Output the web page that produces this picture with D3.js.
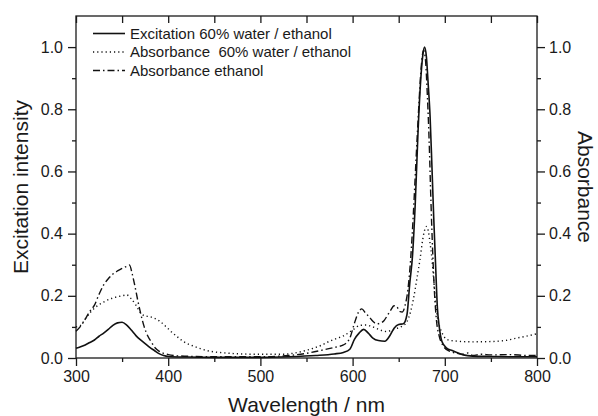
<!DOCTYPE html>
<html>
<head>
<meta charset="utf-8">
<script src="https://cdn.jsdelivr.net/npm/d3@7"></script>
<style>
  body { margin: 0; background: #fff; }
  svg { display: block; font-family: "Liberation Sans", Arial, sans-serif; }
  .axis path, .axis line { stroke: #1a1a1a; stroke-width: 1.3; }
  .axis text { fill: #1a1a1a; font-size: 16px; font-family: "Liberation Sans", Arial, sans-serif; }
</style>
</head>
<body>
<div id="chart"></div>
<script>
var svgWidth = 598;
var svgHeight = 416;

var margin = { top: 16, right: 61, bottom: 58, left: 76 };

var width = svgWidth - margin.left - margin.right;
var height = svgHeight - margin.top - margin.bottom;

// Excitation 60% water / ethanol (solid)
var excWave = [300, 305, 310, 315, 320, 325, 330, 335, 340, 345, 350, 355, 360, 365, 370, 375, 380, 385, 390, 395,
  400, 420, 450, 500, 530, 560, 580, 590, 597, 602, 607, 612, 617, 622, 628, 635, 640, 645, 650, 655,
  659, 662, 665, 668, 671, 674, 676, 678, 680, 682, 684, 686, 688, 690, 692, 694, 697, 702, 708, 713,
  720, 730, 750, 780, 800];
var excValue = [0.031, 0.036, 0.042, 0.05, 0.058, 0.07, 0.08, 0.092, 0.105, 0.113, 0.115, 0.106, 0.09, 0.072, 0.058, 0.046, 0.034, 0.024, 0.014, 0.008,
  0.005, 0.003, 0.002, 0.002, 0.004, 0.008, 0.013, 0.018, 0.028, 0.06, 0.08, 0.092, 0.08, 0.064, 0.056, 0.054, 0.07, 0.096, 0.108, 0.11,
  0.14, 0.24, 0.33, 0.5, 0.73, 0.9, 0.97, 1.0, 0.97, 0.88, 0.78, 0.62, 0.45, 0.3, 0.16, 0.1, 0.052, 0.032, 0.024, 0.018,
  0.01, 0.006, 0.005, 0.004, 0.004];

// Absorbance 60% water / ethanol (dotted)
var absWaterWave = [300, 305, 310, 315, 320, 330, 340, 350, 355, 360, 365, 370, 375, 380, 385, 390, 395, 400, 405, 410,
  415, 420, 425, 435, 445, 455, 467, 480, 496, 510, 525, 535, 545, 557, 567, 575, 583, 590, 600, 608,
  615, 620, 626, 632, 637, 643, 648, 654, 659, 663, 666, 670, 673, 676, 678, 680, 682, 684, 686, 688,
  690, 692, 695, 698, 702, 710, 730, 750, 765, 778, 790, 800];
var absWaterValue = [0.1, 0.105, 0.125, 0.145, 0.16, 0.18, 0.193, 0.2, 0.203, 0.19, 0.17, 0.145, 0.135, 0.133, 0.128, 0.12, 0.108, 0.094, 0.08, 0.068,
  0.056, 0.047, 0.041, 0.03, 0.022, 0.018, 0.015, 0.013, 0.012, 0.012, 0.012, 0.015, 0.021, 0.031, 0.042, 0.054, 0.063, 0.071, 0.09, 0.105,
  0.106, 0.102, 0.095, 0.088, 0.085, 0.09, 0.095, 0.103, 0.117, 0.15, 0.19, 0.26, 0.315, 0.38, 0.41, 0.423, 0.41, 0.37, 0.32, 0.25,
  0.18, 0.13, 0.096, 0.075, 0.06, 0.055, 0.052, 0.053, 0.056, 0.064, 0.071, 0.078];

// Absorbance ethanol (dash-dot)
var absEthWave = [300, 306, 310, 315, 320, 325, 330, 335, 340, 345, 350, 355, 358, 361, 364, 367, 370, 374, 378, 382,
  386, 390, 395, 400, 410, 430, 460, 500, 530, 550, 568, 583, 590, 597, 602, 606, 610, 614, 618, 622,
  626, 630, 634, 638, 641, 645, 648, 651, 654, 657, 660, 663, 666, 669, 672, 674, 676, 677, 679, 681,
  683, 685, 687, 689, 691, 694, 698, 705, 712, 720, 725, 730, 740, 750, 770, 790, 800];
var absEthValue = [0.086, 0.106, 0.125, 0.15, 0.17, 0.205, 0.235, 0.255, 0.27, 0.28, 0.288, 0.295, 0.299, 0.27, 0.23, 0.185, 0.145, 0.1, 0.07, 0.05,
  0.032, 0.022, 0.015, 0.011, 0.007, 0.005, 0.004, 0.004, 0.008, 0.015, 0.026, 0.036, 0.042, 0.064, 0.112, 0.145, 0.158, 0.145, 0.132, 0.118,
  0.11, 0.112, 0.12, 0.138, 0.152, 0.168, 0.165, 0.15, 0.148, 0.17, 0.22, 0.32, 0.47, 0.65, 0.82, 0.92, 0.98, 0.99, 0.96, 0.85,
  0.7, 0.5, 0.33, 0.2, 0.12, 0.07, 0.04, 0.022, 0.016, 0.012, 0.016, 0.008, 0.012, 0.01, 0.011, 0.008, 0.008];

// tick values
var xMajor = [300, 400, 500, 600, 700, 800];
var xMinor = [350, 450, 550, 650, 750];
var xTop = [300, 350, 400, 450, 500, 550, 600, 650, 700, 750, 800];
var yMajor = [0, 0.2, 0.4, 0.6, 0.8, 1.0];
var yMinor = [0.1, 0.3, 0.5, 0.7, 0.9];

var seriesNames = ["Excitation 60% water / ethanol", "Absorbance  60% water / ethanol", "Absorbance ethanol"];

var svg = d3.select("#chart")
  .append("svg")
  .attr("width", svgWidth)
  .attr("height", svgHeight);

var chartGroup = svg.append("g")
  .attr("transform", `translate(${margin.left}, ${margin.top})`);

var xScale = d3.scaleLinear().domain([300, 800]).range([0, width]);
var yScale = d3.scaleLinear().domain([0, 1.1]).range([height, 0]);

// frame
chartGroup.append("rect")
  .attr("width", width)
  .attr("height", height)
  .attr("fill", "none")
  .attr("stroke", "#1a1a1a")
  .attr("stroke-width", 1.3);

// bottom axis
chartGroup.append("g")
  .attr("class", "axis")
  .attr("transform", `translate(0, ${height})`)
  .call(d3.axisBottom(xScale).tickValues(xMajor).tickSize(8).tickPadding(5).tickFormat(d3.format("d")));
chartGroup.append("g")
  .attr("class", "axis")
  .attr("transform", `translate(0, ${height})`)
  .call(d3.axisBottom(xScale).tickValues(xMinor).tickSize(4).tickFormat(""));

// top axis, ticks pointing in
chartGroup.append("g")
  .attr("class", "axis")
  .call(d3.axisTop(xScale).tickValues(xTop).tickSize(-7).tickFormat(""));

// left axis
chartGroup.append("g")
  .attr("class", "axis")
  .call(d3.axisLeft(yScale).tickValues(yMajor).tickSize(8).tickPadding(5).tickFormat(d3.format(".1f")));
chartGroup.append("g")
  .attr("class", "axis")
  .call(d3.axisLeft(yScale).tickValues(yMinor).tickSize(4).tickFormat(""));

// right axis
chartGroup.append("g")
  .attr("class", "axis")
  .attr("transform", `translate(${width}, 0)`)
  .call(d3.axisRight(yScale).tickValues(yMajor).tickSize(8).tickPadding(4).tickFormat(d3.format(".1f")));
chartGroup.append("g")
  .attr("class", "axis")
  .attr("transform", `translate(${width}, 0)`)
  .call(d3.axisRight(yScale).tickValues(yMinor).tickSize(4).tickFormat(""));

chartGroup.selectAll(".axis .domain").remove();

// curves
var line = d3.line()
  .x(d => xScale(d[0]))
  .y(d => yScale(d[1]))
  .curve(d3.curveMonotoneX);

var series = [
  { name: seriesNames[0], data: d3.zip(excWave, excValue), dash: null, width: 1.6 },
  { name: seriesNames[1], data: d3.zip(absWaterWave, absWaterValue), dash: "1.2,3", width: 1.4 },
  { name: seriesNames[2], data: d3.zip(absEthWave, absEthValue), dash: "7,3,1.5,3", width: 1.4 }
];

chartGroup.selectAll(".curve")
  .data(series)
  .enter()
  .append("path")
  .attr("class", "curve")
  .attr("d", d => line(d.data))
  .attr("fill", "none")
  .attr("stroke", "#111")
  .attr("stroke-width", d => d.width)
  .attr("stroke-dasharray", d => d.dash);

// legend
var legend = chartGroup.append("g")
  .attr("transform", "translate(17, 17.5)");

var legendRows = legend.selectAll("g")
  .data(series)
  .enter()
  .append("g")
  .attr("transform", (d, i) => `translate(0, ${i * 18.5})`);

legendRows.append("line")
  .attr("x1", 0)
  .attr("x2", 32)
  .attr("stroke", "#111")
  .attr("stroke-width", d => d.width)
  .attr("stroke-dasharray", d => d.dash);

legendRows.append("text")
  .attr("x", 37)
  .attr("dy", "0.36em")
  .attr("font-size", "15px")
  .attr("fill", "#1a1a1a")
  .style("white-space", "pre")
  .attr("xml:space", "preserve")
  .text(d => d.name);

// axis titles
svg.append("text")
  .attr("x", margin.left + width / 2)
  .attr("y", 412)
  .attr("text-anchor", "middle")
  .attr("font-size", "21px")
  .attr("fill", "#1a1a1a")
  .text("Wavelength / nm");

svg.append("text")
  .attr("transform", `translate(28, ${margin.top + height / 2}) rotate(-90)`)
  .attr("text-anchor", "middle")
  .attr("font-size", "21px")
  .attr("fill", "#1a1a1a")
  .text("Excitation intensity");

svg.append("text")
  .attr("transform", `translate(578, ${margin.top + height / 2}) rotate(90)`)
  .attr("text-anchor", "middle")
  .attr("font-size", "21px")
  .attr("fill", "#1a1a1a")
  .text("Absorbance");
</script>
</body>
</html>
